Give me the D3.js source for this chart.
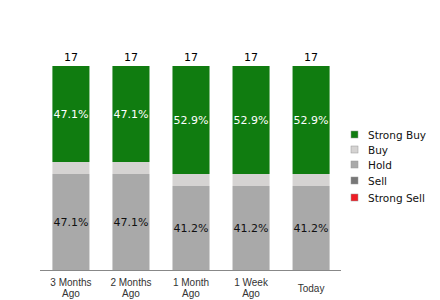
<!DOCTYPE html>
<html>
<head>
<meta charset="utf-8">
<script src="https://cdn.jsdelivr.net/npm/d3@7"></script>
<style>
  body { margin: 0; background: #fff; }
  svg { display: block; }
</style>
</head>
<body>
<svg id="chart" width="440" height="300"></svg>
<script>
// ratings per period
const periods = [['3 Months', 'Ago'], ['2 Months', 'Ago'], ['1 Month', 'Ago'], ['1 Week', 'Ago'], ['Today']];
const strongBuy = [8, 8, 9, 9, 9];
const buy = [1, 1, 1, 1, 1];
const hold = [8, 8, 7, 7, 7];
const sell = [0, 0, 0, 0, 0];
const strongSell = [0, 0, 0, 0, 0];

const seriesNames = ['Strong Buy', 'Buy', 'Hold', 'Sell', 'Strong Sell'];
const colors = ['#107c10', '#d5d3d2', '#a9a9a9', '#777777', '#ee1c25'];

const svg = d3.select('#chart');
const margin = {left: 41, right: 99, top: 66, bottom: 30};
const W = 440, H = 300;

const rows = periods.map((p, i) => ({
  key: i,
  'Strong Buy': strongBuy[i], 'Buy': buy[i], 'Hold': hold[i],
  'Sell': sell[i], 'Strong Sell': strongSell[i]
}));
const totals = rows.map(r => d3.sum(seriesNames, s => r[s]));

const x = d3.scaleBand().domain(d3.range(periods.length))
            .range([margin.left, W - margin.right])
            .paddingInner(0.383).paddingOuter(0.19);
const y = d3.scaleLinear().domain([0, d3.max(totals)])
            .range([H - margin.bottom, margin.top]);

// stack from bottom: strong sell, sell, hold, buy, strong buy
const stack = d3.stack().keys(seriesNames.slice().reverse());
const layers = stack(rows);

svg.append('g').selectAll('g').data(layers).enter().append('g')
   .attr('fill', d => colors[seriesNames.indexOf(d.key)])
   .selectAll('rect').data(d => d).enter().append('rect')
   .attr('x', (d, i) => x(i)).attr('width', x.bandwidth())
   .attr('y', d => y(d[1])).attr('height', d => y(d[0]) - y(d[1]));

// percentage labels for big segments
layers.forEach(layer => {
  layer.forEach((d, i) => {
    const v = d[1] - d[0];
    if (v / totals[i] < 0.2) return;
    svg.append('text')
       .attr('x', x(i) + x.bandwidth() / 2)
       .attr('y', (y(d[0]) + y(d[1])) / 2 + 4)
       .attr('text-anchor', 'middle')
       .attr('font-family', 'DejaVu Sans')
       .attr('font-size', 11)
       .attr('fill', layer.key === 'Strong Buy' ? '#fff' : '#111')
       .text((v / totals[i] * 100).toFixed(1) + '%');
  });
});

// totals on top
svg.selectAll('.tot').data(totals).enter().append('text')
   .attr('class', 'tot')
   .attr('x', (d, i) => x(i) + x.bandwidth() / 2)
   .attr('y', d => y(d) - 5)
   .attr('text-anchor', 'middle')
   .attr('font-family', 'DejaVu Sans').attr('font-size', 11)
   .attr('fill', '#000')
   .text(d => d);

// baseline
svg.append('line')
   .attr('x1', margin.left - 1).attr('x2', W - margin.right)
   .attr('y1', y(0) + 0.5).attr('y2', y(0) + 0.5)
   .attr('stroke', '#888').attr('stroke-width', 1);

// category labels
periods.forEach((p, i) => {
  const t = svg.append('text')
     .attr('text-anchor', 'middle')
     .attr('font-family', 'Liberation Sans, Arial').attr('font-size', 10)
     .attr('fill', '#333');
  const cx = x(i) + x.bandwidth() / 2;
  if (p.length === 1) {
    t.append('tspan').attr('x', cx).attr('y', 292).text(p[0]);
  } else {
    p.forEach((line, j) => t.append('tspan').attr('x', cx).attr('y', 286 + j * 11).text(line));
  }
});

// legend
const legY = [135, 150, 165, 181, 198];
const leg = svg.append('g').selectAll('g').data(seriesNames).enter().append('g')
               .attr('transform', (d, i) => `translate(351, ${legY[i]})`);
leg.append('rect').attr('x', 0).attr('y', -4).attr('width', 7).attr('height', 7)
   .attr('fill', (d, i) => colors[i])
   .attr('stroke', '#999').attr('stroke-width', 0.5);
leg.append('text').attr('x', 17).attr('y', 4)
   .attr('font-family', 'DejaVu Sans').attr('font-size', 10.5)
   .attr('fill', '#111')
   .text(d => d);
</script>
</body>
</html>
